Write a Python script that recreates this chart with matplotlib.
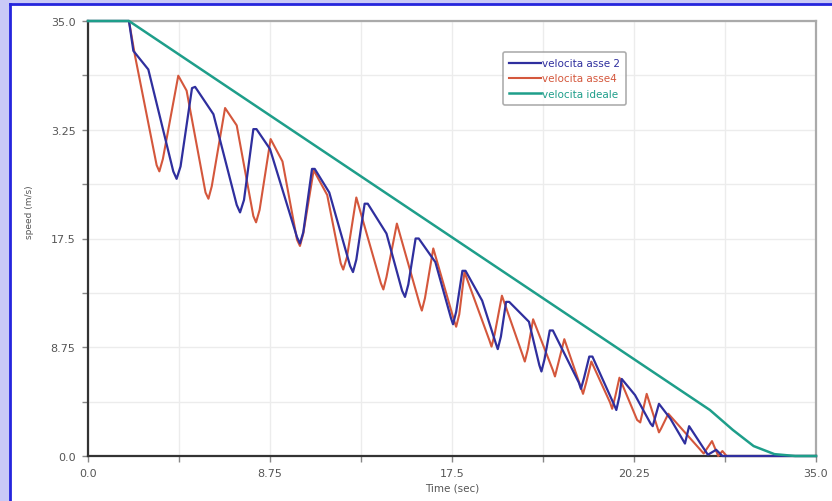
import matplotlib
matplotlib.use("Agg")
from matplotlib import pyplot as plt
from matplotlib.lines import Line2D
from matplotlib.patches import Rectangle
import numpy as np

# data (time in sec, speed in m/s)
t_asse2 = [0, 1.97, 2.18, 2.9, 4.1, 4.26, 4.45, 5.0, 5.15, 6.03, 7.15, 7.31, 7.5,
           7.95, 8.1, 8.75, 10.05, 10.19, 10.35, 10.77, 10.9, 11.6, 12.6, 12.74, 12.9,
           13.3, 13.45, 14.35, 15.1, 15.24, 15.4, 15.75, 15.9, 16.7, 17.45, 17.55, 17.7,
           18.0, 18.15, 18.95, 19.6, 19.7, 19.85, 20.1, 20.25, 21.2, 21.7, 21.8, 21.95,
           22.2, 22.35, 23.6, 23.7, 23.85, 24.1, 24.25, 25.3, 25.4, 25.55, 25.66, 26.3,
           27.05, 27.15, 27.45, 28.0, 28.7, 28.9, 29.8, 30.2, 30.5, 35.0]
v_asse2 = [35, 35, 32.6, 31.1, 22.9, 22.3, 23.3, 29.6, 29.7, 27.5, 20.2, 19.6, 20.6,
           26.3, 26.3, 24.7, 17.6, 17.1, 18.0, 23.1, 23.1, 21.2, 15.3, 14.8, 15.8,
           20.3, 20.3, 17.9, 13.3, 12.8, 13.8, 17.5, 17.5, 15.6, 11.1, 10.6, 11.6,
           14.9, 14.9, 12.5, 9.1, 8.6, 9.6, 12.4, 12.4, 10.8, 7.3, 6.8, 7.8,
           10.1, 10.1, 5.9, 5.4, 6.3, 8.0, 8.0, 4.1, 3.7, 4.8, 6.2, 4.9,
           2.6, 2.4, 4.2, 3.0, 1.0, 2.4, 0.1, 0.5, 0.0, 0.0]

t_asse4 = [0, 1.97, 2.26, 3.3, 3.43, 3.6, 4.34, 4.74, 5.65, 5.79, 5.95, 6.59, 7.15,
           7.95, 8.08, 8.25, 8.78, 9.35, 10.05, 10.19, 10.35, 10.85, 11.5, 12.15, 12.27,
           12.45, 12.9, 14.08, 14.2, 14.35, 14.85, 15.95, 16.05, 16.2, 16.6, 17.6, 17.7,
           17.85, 18.1, 19.3, 19.4, 19.55, 19.9, 20.9, 21.0, 21.15, 21.4, 22.35, 22.45,
           22.6, 22.9, 23.7, 23.8, 23.95, 24.2, 25.1, 25.2, 25.35, 25.55, 26.4, 26.55,
           26.86, 27.45, 27.55, 27.9, 29.6, 30.0, 30.3, 30.5, 30.7, 35.0]
v_asse4 = [35, 35, 32.2, 23.4, 22.9, 23.9, 30.6, 29.4, 21.2, 20.7, 21.7, 28.0, 26.6,
           19.3, 18.8, 19.8, 25.5, 23.7, 17.4, 16.9, 17.9, 23.0, 21.0, 15.5, 15.0,
           16.0, 20.8, 13.9, 13.4, 14.4, 18.7, 12.2, 11.7, 12.7, 16.7, 10.9, 10.4,
           11.4, 14.8, 9.3, 8.8, 9.8, 12.9, 8.1, 7.6, 8.6, 11.0, 6.9, 6.4,
           7.4, 9.4, 5.5, 5.0, 5.9, 7.6, 4.3, 3.8, 4.8, 6.3, 2.9, 2.7,
           5.0, 1.9, 2.2, 3.4, 0.2, 1.2, 0.0, 0.4, 0.0, 0.0]

t_ideale = [0, 1.97, 29.9, 31.0, 32.0, 33.0, 34.0, 35.0]
v_ideale = [35, 35, 3.7, 2.1, 0.8, 0.15, 0.0, 0.0]

x_labels = ["0.0", "8.75", "17.5", "20.25", "35.0"]
y_labels = ["0.0", "8.75", "17.5", "3.25", "35.0"]
series_names = ["velocita asse 2", "velocita asse4", "velocita ideale"]

c_blue = "#2f2f9e"
c_red = "#d4573c"
c_teal = "#1e9e8a"

fig = plt.figure(figsize=(8.32, 5.02), dpi=100)
fig.patch.set_facecolor("#c9c9f7")
W, H = 832.0, 502.0
# white panel with the blue frame lines on top and left
fig.patches.append(Rectangle((10/W, 0), 1, 1 - 5/H, transform=fig.transFigure,
                             facecolor="white", edgecolor="none", zorder=-10))
fig.lines.append(Line2D([9.5/W, 9.5/W], [0, 1 - 4.5/H], transform=fig.transFigure,
                        color="#2525dd", lw=2, zorder=-5))
fig.lines.append(Line2D([9.5/W, 1], [1 - 4.5/H, 1 - 4.5/H], transform=fig.transFigure,
                        color="#2525dd", lw=2, zorder=-5))

ax = fig.add_axes([88/W, 45/H, (816-88)/W, (457-22)/H])
ax.set_facecolor("white")

ax.plot(t_asse4, v_asse4, color=c_red, lw=1.5, label=series_names[1], zorder=3,
        clip_on=False, solid_joinstyle="round")
ax.plot(t_asse2, v_asse2, color=c_blue, lw=1.6, label=series_names[0], zorder=4,
        clip_on=False, solid_joinstyle="round")
ax.plot(t_ideale, v_ideale, color=c_teal, lw=1.8, label=series_names[2], zorder=5,
        clip_on=False, solid_joinstyle="round")

ax.set_xlim(0, 35)
ax.set_ylim(0, 35)
major = np.arange(0, 35.01, 8.75)
minor = np.arange(4.375, 35, 8.75)
ax.set_xticks(major)
ax.set_xticklabels(x_labels)
ax.set_yticks(major)
ax.set_yticklabels(y_labels)
ax.set_xticks(minor, minor=True)
ax.set_yticks(minor, minor=True)
ax.grid(True, which="both", color="#ececec", lw=1)
ax.set_axisbelow(True)
ax.tick_params(which="both", direction="out", length=4, width=1, color="#888888",
               labelsize=8, labelcolor="#555555", pad=5)

for side in ["left", "bottom"]:
    ax.spines[side].set_color("#333333")
    ax.spines[side].set_linewidth(1.6)
for side in ["top", "right"]:
    ax.spines[side].set_color("#aaaaaa")
    ax.spines[side].set_linewidth(1.6)

ax.set_xlabel("Time (sec)", fontsize=7.5, color="#555555", labelpad=3)
fig.text(30/W, 1 - 212/H, "speed (m/s)", rotation=90, fontsize=6.5, color="#555555",
         ha="center", va="center")

handles, labels = ax.get_legend_handles_labels()
order = [1, 0, 2]
leg = ax.legend([handles[i] for i in order], [labels[i] for i in order],
                loc="upper left", bbox_to_anchor=((503-88)/728, (457-53)/435),
                borderaxespad=0, fontsize=7.5, frameon=True, handlelength=3.0,
                handletextpad=0.1, labelspacing=0.5, borderpad=0.6)
leg.get_frame().set_edgecolor("#999999")
leg.get_frame().set_linewidth(1.2)
for txt, col in zip(leg.get_texts(), [c_blue, c_red, c_teal]):
    txt.set_color(col)

fig.savefig("out.png", dpi=100, facecolor=fig.get_facecolor())
